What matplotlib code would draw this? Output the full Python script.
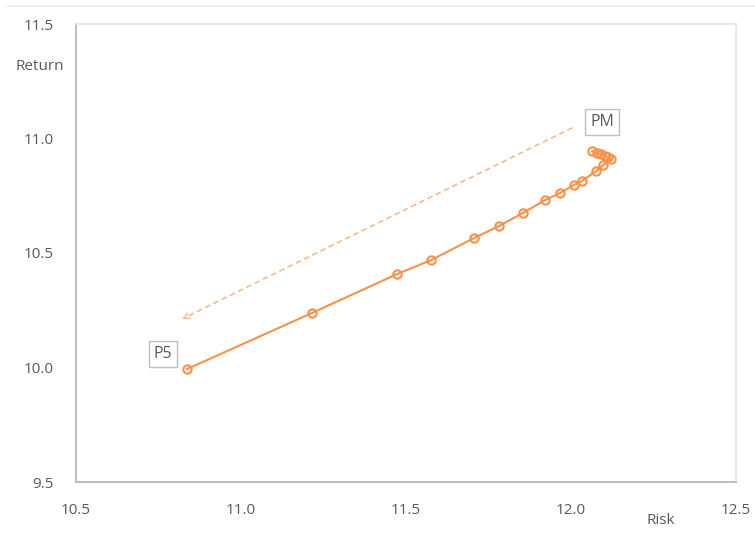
import matplotlib
matplotlib.use("Agg")
import matplotlib.pyplot as plt
from matplotlib.lines import Line2D

# efficient frontier points, from P5 up to PM
risk = [10.836, 11.215, 11.473, 11.576, 11.706, 11.782, 11.855, 11.921, 11.967,
        12.009, 12.033, 12.076, 12.097, 12.121, 12.112, 12.103, 12.091, 12.079, 12.064]
ret = [9.993, 10.238, 10.408, 10.469, 10.565, 10.618, 10.675, 10.731, 10.762,
       10.797, 10.814, 10.858, 10.884, 10.910, 10.919, 10.924, 10.932, 10.937, 10.945]

x_ticks = [10.5, 11.0, 11.5, 12.0, 12.5]
y_ticks = [9.5, 10.0, 10.5, 11.0, 11.5]

orange = "#F5924A"
grey_txt = "#595959"
font = "Open Sans"

fig = plt.figure(figsize=(7.55, 5.33), dpi=100)
ax = fig.add_axes([76 / 755, 1 - 482 / 533, 660 / 755, 458 / 533])

ax.plot(risk, ret, color=orange, lw=1.5, marker="o", markersize=6,
        markerfacecolor="none", markeredgecolor=orange, markeredgewidth=1.5)

# direction arrow, PM -> P5
ax.annotate("", xy=(10.821, 10.212), xytext=(12.003, 11.046),
            arrowprops=dict(arrowstyle="->", color="#F8B48A", lw=1.1,
                            linestyle=(0, (3, 3)), shrinkA=0, shrinkB=0))

box = dict(boxstyle="square,pad=0.3", fc="white", ec="#BFBFBF", lw=1)
ax.text(12.094, 11.072, "PM", ha="center", va="center", fontsize=11.5,
        color=grey_txt, family=font, bbox=box)
ax.text(10.764, 10.059, "P5", ha="center", va="center", fontsize=11.5,
        color=grey_txt, family=font, bbox=box)

ax.set_xlim(10.5, 12.5)
ax.set_ylim(9.5, 11.5)
ax.set_xticks(x_ticks)
ax.set_yticks(y_ticks)
ax.set_xticklabels([f"{v:.1f}" for v in x_ticks], family=font, fontsize=11, color=grey_txt)
ax.set_yticklabels([f"{v:.1f}" for v in y_ticks], family=font, fontsize=11, color=grey_txt)
ax.tick_params(axis="both", length=0)
ax.tick_params(axis="x", pad=15)
ax.tick_params(axis="y", pad=16)

for side in ["left", "bottom"]:
    ax.spines[side].set_color("#BFBFBF")
    ax.spines[side].set_linewidth(1.5)
for side in ["top", "right"]:
    ax.spines[side].set_color("#E6E6E6")
    ax.spines[side].set_linewidth(1.2)

fig.text(40 / 755, 1 - 67 / 533, "Return", ha="center", va="center",
         fontsize=11, color=grey_txt, family=font)
fig.text(661 / 755, 1 - 520 / 533, "Risk", ha="center", va="center",
         fontsize=11, color=grey_txt, family=font)

# outer chart border (top edge)
fig.add_artist(Line2D([8 / 755, 1], [1 - 6 / 533, 1 - 6 / 533],
                      transform=fig.transFigure, color="#E6E6E6", lw=1.2))

fig.savefig("out.png", dpi=100)
